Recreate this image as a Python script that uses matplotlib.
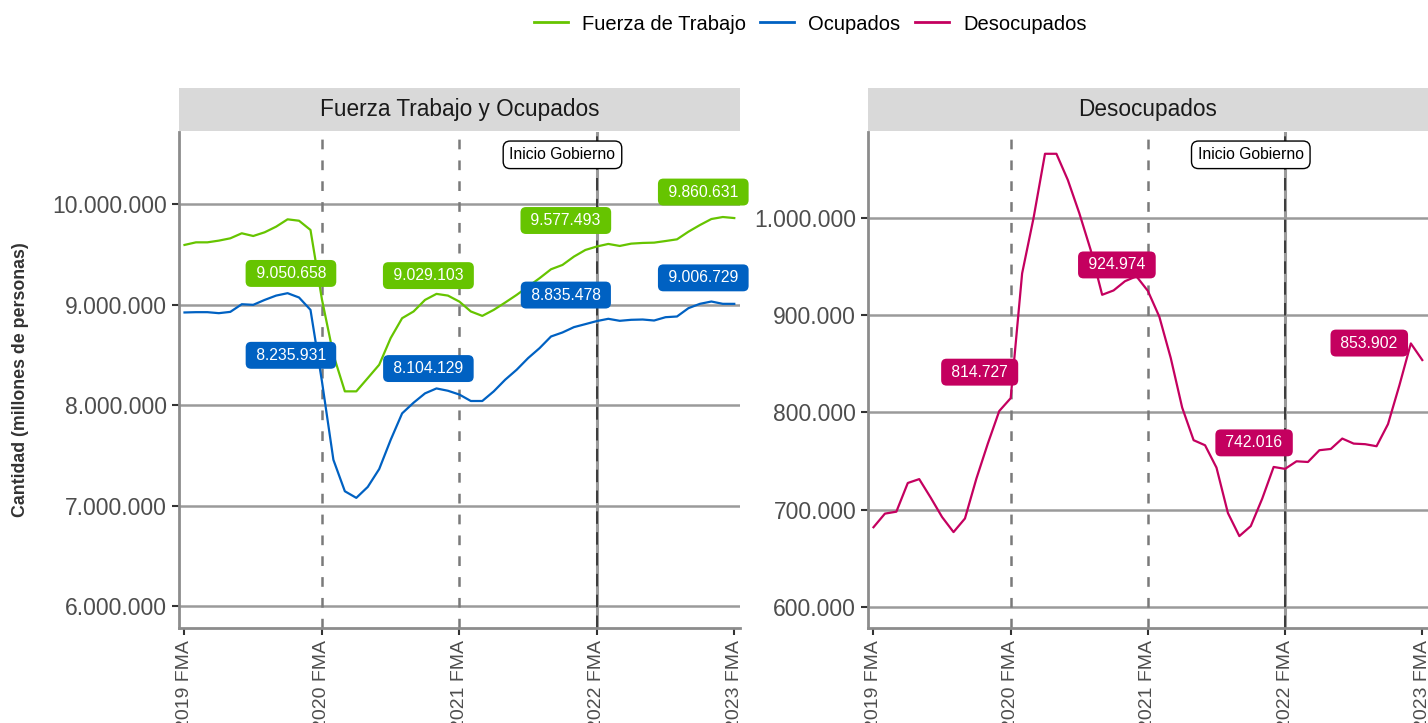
import numpy as np
import matplotlib.pyplot as plt
from matplotlib.lines import Line2D

plt.rcParams['font.family'] = ['Liberation Sans', 'DejaVu Sans']
plt.rcParams['lines.scale_dashes'] = False

# periodos trimestrales moviles, 2019 FMA .. 2023 FMA (49 puntos)
periodos = np.arange(49)
tick_pos = [0, 12, 24, 36, 48]
tick_labels = ["2019 FMA", "2020 FMA", "2021 FMA", "2022 FMA", "2023 FMA"]

fuerza_trabajo = [
    9593000, 9619000, 9619000, 9636000, 9659000, 9709000, 9682000, 9719000, 9775000, 9848000,
    9834000, 9742000, 9050658, 8500000, 8136000, 8136000, 8268000, 8401000, 8666000, 8864000,
    8931000, 9046000, 9106000, 9089000, 9029103, 8931000, 8887000, 8947000, 9020000, 9096000,
    9179000, 9262000, 9351000, 9394000, 9477000, 9543000, 9577493, 9603000, 9583000, 9606000,
    9613000, 9616000, 9632000, 9649000, 9725000, 9791000, 9851000, 9871000, 9860631,
]
ocupados = [
    8921000, 8924000, 8924000, 8914000, 8927000, 9003000, 8997000, 9046000, 9089000, 9113000,
    9070000, 8947000, 8235931, 7455000, 7142000, 7076000, 7185000, 7363000, 7653000, 7917000,
    8023000, 8116000, 8165000, 8142000, 8104129, 8040000, 8040000, 8136000, 8252000, 8351000,
    8467000, 8566000, 8682000, 8722000, 8775000, 8805000, 8835478, 8858000, 8838000, 8848000,
    8851000, 8841000, 8874000, 8881000, 8964000, 9007000, 9030000, 9007000, 9006729,
]
desocupados = [
    682000, 696000, 698000, 727500, 731500, 712500, 692500, 677000, 691000, 732000,
    768000, 801500, 814727, 943000, 1000000, 1066000, 1066000, 1039000, 1005000, 967000,
    921000, 925500, 935000, 940000, 924974, 898500, 856000, 805000, 771500, 766300,
    743300, 696600, 672900, 683200, 711400, 744000, 742016, 749800, 749100, 761200,
    762500, 773200, 768000, 767400, 765300, 788000, 828000, 871000, 853902,
]

VERDE = "#66C400"
AZUL = "#0061C2"
MAGENTA = "#C4005F"
GRIS_TXT = "#4D4D4D"


def fmt_miles(v):
    return "{:,.0f}".format(v).replace(",", ".")


def setup_axes(ax, ylim, yticks):
    ax.set_xlim(-0.48, 48.5)
    ax.set_ylim(*ylim)
    ax.set_yticks(yticks)
    ax.set_yticklabels([fmt_miles(v) for v in yticks])
    ax.set_xticks(tick_pos)
    ax.set_xticklabels(tick_labels, rotation=90, va="top", ha="center")
    ax.tick_params(axis="both", colors="#333333", labelcolor=GRIS_TXT, labelsize=14,
                   length=5, width=1.5)
    ax.tick_params(axis="y", labelsize=16.5)
    for s in ["top", "right"]:
        ax.spines[s].set_visible(False)
    for s in ["left", "bottom"]:
        ax.spines[s].set_color("#8C8C8C")
        ax.spines[s].set_linewidth(2)
    ax.grid(axis="y", color="#9A9A9A", linewidth=1.8, zorder=0)
    ax.set_axisbelow(True)
    # lineas verticales
    for m in [12, 24]:
        ax.axvline(m, color="#7A7A7A", linewidth=1.8, dashes=(7, 8), zorder=1)
    ax.axvline(36, color="#9A9A9A", linewidth=2.2, zorder=1)
    ax.axvline(36, color="#3C3C3C", linewidth=1.4, dashes=(9, 6), zorder=1)
    ax.text(33.0, 0.954, "Inicio Gobierno", transform=ax.get_xaxis_transform(),
            ha="center", va="center", fontsize=11.3, color="black", zorder=6,
            bbox=dict(boxstyle="round,pad=0.4,rounding_size=0.45", fc="white",
                      ec="black", lw=1))


def etiqueta(ax, x, y, color, off=(-31, 26)):
    ax.annotate(" " + fmt_miles(y) + " ", (x, y), xytext=off, textcoords="offset pixels",
                ha="center", va="center", fontsize=11.3, color="white", zorder=7,
                bbox=dict(boxstyle="round,pad=0.38,rounding_size=0.35", fc=color,
                          ec="none"))


fig = plt.figure(figsize=(14.28, 7.23), dpi=100)
ax1 = fig.add_axes([179 / 1428, 95 / 723, 561 / 1428, 496 / 723])
ax2 = fig.add_axes([868 / 1428, 95 / 723, 560 / 1428, 496 / 723])

setup_axes(ax1, (5781000, 10717000), [6000000, 7000000, 8000000, 9000000, 10000000])
setup_axes(ax2, (578400, 1088400), [600000, 700000, 800000, 900000, 1000000])

ax1.plot(periodos, fuerza_trabajo, color=VERDE, linewidth=1.6, zorder=3)
ax1.plot(periodos, ocupados, color=AZUL, linewidth=1.6, zorder=3)
ax2.plot(periodos, desocupados, color=MAGENTA, linewidth=1.6, zorder=3)

for m in tick_pos[1:]:
    etiqueta(ax1, m, fuerza_trabajo[m], VERDE)
    etiqueta(ax1, m, ocupados[m], AZUL)
for m in tick_pos[1:-1]:
    etiqueta(ax2, m, desocupados[m], MAGENTA)
etiqueta(ax2, 48, desocupados[48], MAGENTA, off=(-53, 17))

ax1.set_ylabel("Cantidad (millones de personas)", fontsize=12.8, fontweight="bold",
               color="#333333")
ax1.yaxis.set_label_coords(-0.268, 0.5)

# franjas de titulo (estilo facet)
for ax, titulo in [(ax1, "Fuerza Trabajo y Ocupados"), (ax2, "Desocupados")]:
    pos = ax.get_position()
    strip = fig.add_axes([pos.x0, (723 - 131) / 723, pos.width, 43 / 723])
    strip.set_facecolor("#D9D9D9")
    strip.set_xticks([])
    strip.set_yticks([])
    for s in strip.spines.values():
        s.set_visible(False)
    strip.text(0.5, 0.5, titulo, ha="center", va="center", fontsize=16.3, color="#1A1A1A")

handles = [Line2D([], [], color=VERDE, lw=2), Line2D([], [], color=AZUL, lw=2),
           Line2D([], [], color=MAGENTA, lw=2)]
fig.legend(handles, ["Fuerza de Trabajo", "Ocupados", "Desocupados"], loc="center",
           bbox_to_anchor=(810 / 1428, 1 - 24 / 723), ncol=3, frameon=False, fontsize=14.5,
           handlelength=1.7, handletextpad=0.7, columnspacing=0.7)

fig.savefig("out.png", dpi=100)
